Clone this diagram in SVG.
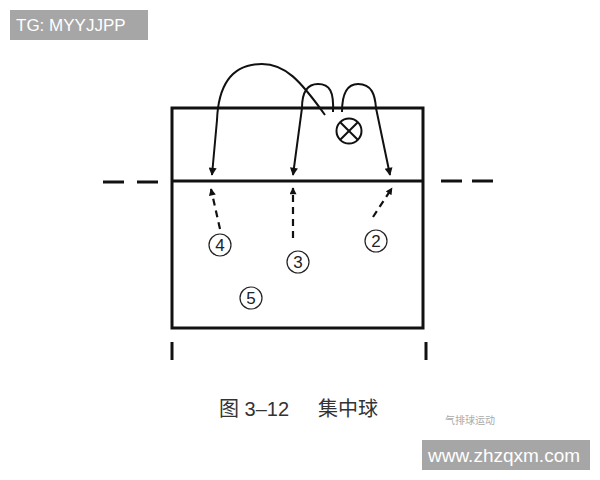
<svg xmlns="http://www.w3.org/2000/svg" width="600" height="480" viewBox="0 0 600 480">
<defs>
<marker id="ah" viewBox="0 0 10 10" refX="9" refY="5" markerWidth="11" markerHeight="8" markerUnits="userSpaceOnUse" orient="auto">
<path d="M0,0 L10,5 L0,10 Z" fill="#111"/>
</marker>
<marker id="ahs" viewBox="0 0 10 10" refX="9" refY="5" markerWidth="9" markerHeight="7" markerUnits="userSpaceOnUse" orient="auto">
<path d="M0,0 L10,5 L0,10 Z" fill="#111"/>
</marker>
<style>
.ln{stroke:#111;fill:none;stroke-width:3}
.arc{stroke:#111;fill:none;stroke-width:2}
.dash{stroke:#111;fill:none;stroke-width:2.2;stroke-dasharray:7 5}
.pc{fill:#fff;stroke:#222;stroke-width:1.2}
.pn{font-family:"Liberation Sans",Arial,sans-serif;font-size:17px;fill:#222;text-anchor:middle}
.wm{fill:#fff;font-family:"Liberation Sans",Arial,sans-serif}
</style>
</defs>
<rect width="600" height="480" fill="#fff"/>
<g id="court">
<rect x="172" y="108" width="251" height="220" class="ln"/>
<line x1="172" y1="181" x2="423" y2="181" class="ln"/>
<line x1="103" y1="182" x2="124" y2="182" class="ln"/>
<line x1="137" y1="182" x2="158" y2="182" class="ln"/>
<line x1="441" y1="181" x2="462" y2="181" class="ln"/>
<line x1="472" y1="181" x2="493" y2="181" class="ln"/>
<line x1="172" y1="342" x2="172" y2="360" class="ln"/>
<line x1="426" y1="342" x2="426" y2="360" class="ln"/>
</g>
<g id="ball">
<circle cx="349" cy="131" r="12.5" fill="#fff" stroke="#111" stroke-width="2"/>
<line x1="340.2" y1="122.2" x2="357.8" y2="139.8" stroke="#111" stroke-width="2"/>
<line x1="357.8" y1="122.2" x2="340.2" y2="139.8" stroke="#111" stroke-width="2"/>
</g>
<g id="connectors">
<path d="M325,115 C300,80 285,64 262,64 C225,64 218,95 217,120 L212,175" class="arc" marker-end="url(#ah)"/>
<path d="M333,112 C334,92 330,84 318,84 C305,84 302,95 302,108 L293,175" class="arc" marker-end="url(#ah)"/>
<path d="M342,112 C342,92 348,84 358,84 C372,84 375,95 376,108 L390,175" class="arc" marker-end="url(#ah)"/>
<line x1="220" y1="229" x2="211" y2="189" class="dash" marker-end="url(#ahs)"/>
<line x1="293" y1="238" x2="293" y2="188" class="dash" marker-end="url(#ahs)"/>
<line x1="373" y1="217" x2="392" y2="188" class="dash" marker-end="url(#ahs)"/>
</g>
<g id="p4"><circle cx="220" cy="245" r="11" class="pc"/><text x="220" y="251" class="pn">4</text></g>
<g id="p3"><circle cx="298" cy="262" r="11" class="pc"/><text x="298" y="268" class="pn">3</text></g>
<g id="p2"><circle cx="376" cy="241" r="11" class="pc"/><text x="376" y="247" class="pn">2</text></g>
<g id="p5"><circle cx="251" cy="298" r="11" class="pc"/><text x="251" y="304" class="pn">5</text></g>
<text x="219" y="416" font-family="'Liberation Sans','Noto Sans CJK SC',sans-serif" font-size="20" fill="#333">图 3–12<tspan x="318">集中球</tspan></text>
<g id="wm-small">
<text x="445" y="424" font-family="'Noto Sans CJK SC',sans-serif" font-size="10" fill="#aaa">气排球运动</text>
</g>
<g id="tg">
<rect x="10" y="10" width="138" height="30" fill="#a6a6a6"/>
<text x="16" y="31" class="wm" font-size="17">TG: MYYJJPP</text>
</g>
<g id="site">
<rect x="422" y="440" width="168" height="30" fill="#a6a6a6"/>
<text x="428" y="462" class="wm" font-size="19">www.zhzqxm.com</text>
</g>
</svg>
